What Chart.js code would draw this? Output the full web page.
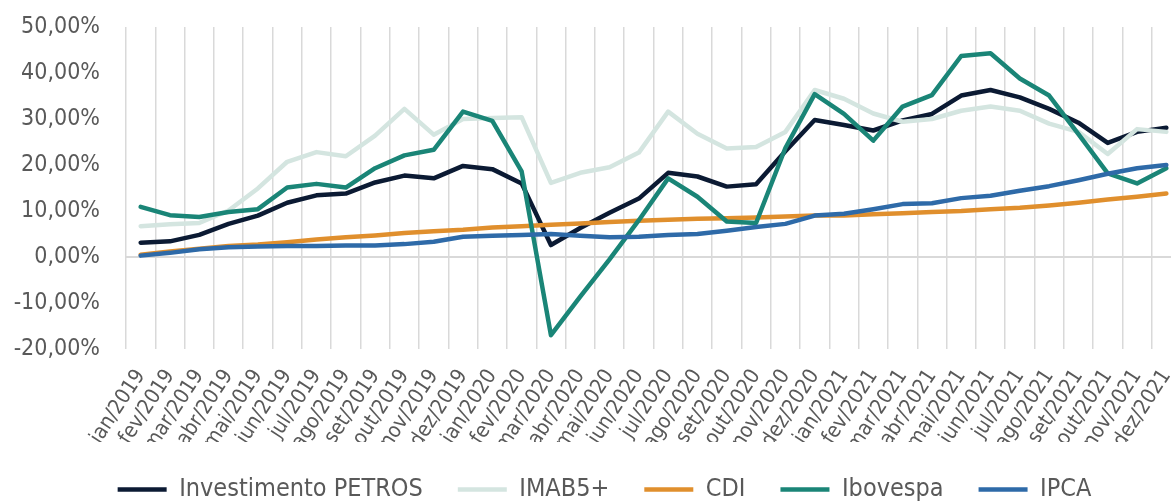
<!DOCTYPE html>
<html>
<head>
<meta charset="utf-8">
<script src="https://cdn.jsdelivr.net/npm/chart.js@4/dist/chart.umd.min.js"></script>
<style>
  html, body { margin: 0; padding: 0; background: #fff; overflow: hidden; }
  #wrap { position: absolute; left: 0; top: 0; }
</style>
</head>
<body>
<div id="wrap"><canvas id="retornoChart" width="1208" height="512"></canvas></div>
<script>
const meses = ['jan', 'fev', 'mar', 'abr', 'mai', 'jun', 'jul', 'ago', 'set', 'out', 'nov', 'dez'];
const anos = ['2019', '2020', '2021'];
const labels = [];
anos.forEach(a => meses.forEach(m => labels.push(m + '/' + a)));

// acumulado em %
const petros = [3.1, 3.4, 4.8, 7.2, 9.0, 11.8, 13.4, 13.8, 16.2, 17.7, 17.1, 19.8,
                19.1, 16.0, 2.6, 6.3, 9.6, 12.7, 18.3, 17.5, 15.3, 15.8, 23.0, 29.8,
                28.7, 27.5, 29.7, 31.1, 35.1, 36.3, 34.7, 32.2, 29.2, 24.8, 27.2, 28.1];
const imab5 = [6.7, 7.1, 7.4, 10.1, 14.9, 20.7, 22.8, 21.9, 26.4, 32.2, 26.6, 30.0,
               30.2, 30.4, 16.1, 18.3, 19.5, 22.7, 31.6, 26.8, 23.6, 23.9, 27.2, 36.3,
               34.4, 31.2, 29.4, 30.0, 31.8, 32.7, 31.8, 29.0, 27.2, 22.4, 27.8, 27.2];
const cdi = [0.5, 1.2, 1.8, 2.4, 2.7, 3.2, 3.8, 4.3, 4.7, 5.2, 5.6, 5.9,
             6.4, 6.7, 7.0, 7.3, 7.6, 7.9, 8.1, 8.3, 8.4, 8.6, 8.8, 9.0,
             9.0, 9.3, 9.5, 9.8, 10.0, 10.4, 10.7, 11.2, 11.8, 12.5, 13.1, 13.8];
const ibovespa = [10.9, 9.1, 8.7, 9.8, 10.4, 15.1, 15.9, 15.1, 19.3, 22.1, 23.3, 31.6,
                  29.6, 18.6, -17.0, -8.6, -0.5, 8.0, 17.1, 13.1, 7.7, 7.4, 23.7, 35.4,
                  31.1, 25.3, 32.7, 35.2, 43.7, 44.3, 38.8, 35.1, 26.7, 18.2, 16.0, 19.3];
const ipca = [0.3, 0.9, 1.7, 2.1, 2.3, 2.4, 2.4, 2.5, 2.5, 2.8, 3.3, 4.4,
              4.6, 4.8, 5.0, 4.6, 4.3, 4.4, 4.8, 5.0, 5.7, 6.5, 7.2, 9.0,
              9.4, 10.4, 11.5, 11.7, 12.8, 13.3, 14.4, 15.4, 16.7, 18.1, 19.3, 20.0];

const fonte = '"DejaVu Sans Condensed", "DejaVu Sans", sans-serif';
const cinza = '#595959';

function serie(nome, dados, cor) {
    return {
        label: nome,
        data: dados,
        borderColor: cor,
        backgroundColor: cor,
        borderWidth: 4.5,
        borderCapStyle: 'round',
        borderJoinStyle: 'round',
        pointRadius: 0,
        tension: 0,
        fill: false
    };
}

// ordem invertida: a ultima serie do Excel fica por cima
const datasets = [
    serie('IPCA', ipca, '#2e6aa8'),
    serie('Ibovespa', ibovespa, '#1a8577'),
    serie('CDI', cdi, '#e08f2d'),
    serie('IMAB5+', imab5, '#d4e5e0'),
    serie('Investimento PETROS', petros, '#0b1a33')
];

// a legenda do original fica um pouco deslocada para a direita
const moverLegenda = {
    id: 'moverLegenda',
    afterLayout(chart) {
        chart.legend.left += 14;
        chart.legend.right += 14;
    }
};

const ctx = document.getElementById('retornoChart').getContext('2d');
new Chart(ctx, {
    type: 'line',
    data: { labels: labels, datasets: datasets },
    plugins: [moverLegenda],
    options: {
        responsive: false,
        animation: false,
        layout: { padding: { left: 0, right: 27, top: 27, bottom: 0 } },
        plugins: {
            tooltip: { enabled: false },
            legend: {
                position: 'bottom',
                reverse: true,
                labels: {
                    usePointStyle: true,
                    pointStyle: 'line',
                    pointStyleWidth: 49,
                    padding: 35,
                    color: cinza,
                    font: { family: fonte, size: 25 }
                }
            }
        },
        scales: {
            x: {
                offset: true,
                grid: {
                    offset: true,
                    color: '#d9d9d9',
                    lineWidth: 1.5,
                    drawTicks: false
                },
                border: { display: false },
                ticks: {
                    autoSkip: false,
                    minRotation: 57,
                    maxRotation: 57,
                    padding: 16,
                    color: cinza,
                    font: { family: fonte, size: 21 }
                },
                afterFit: function(scale) { scale.height = 93; }
            },
            y: {
                min: -20,
                max: 50,
                grid: {
                    drawTicks: false,
                    lineWidth: 2,
                    color: c => c.tick && c.tick.value === 0 ? '#d9d9d9' : 'rgba(0,0,0,0)'
                },
                border: { display: false },
                ticks: {
                    stepSize: 10,
                    padding: 26,
                    color: cinza,
                    font: { family: fonte, size: 23 },
                    callback: v => v.toFixed(2).replace('.', ',') + '%'
                },
                afterFit: function(scale) {
                    scale.width = 126;
                    scale.paddingTop = 0;
                    scale.paddingBottom = 0;
                }
            }
        }
    }
});
</script>
</body>
</html>
